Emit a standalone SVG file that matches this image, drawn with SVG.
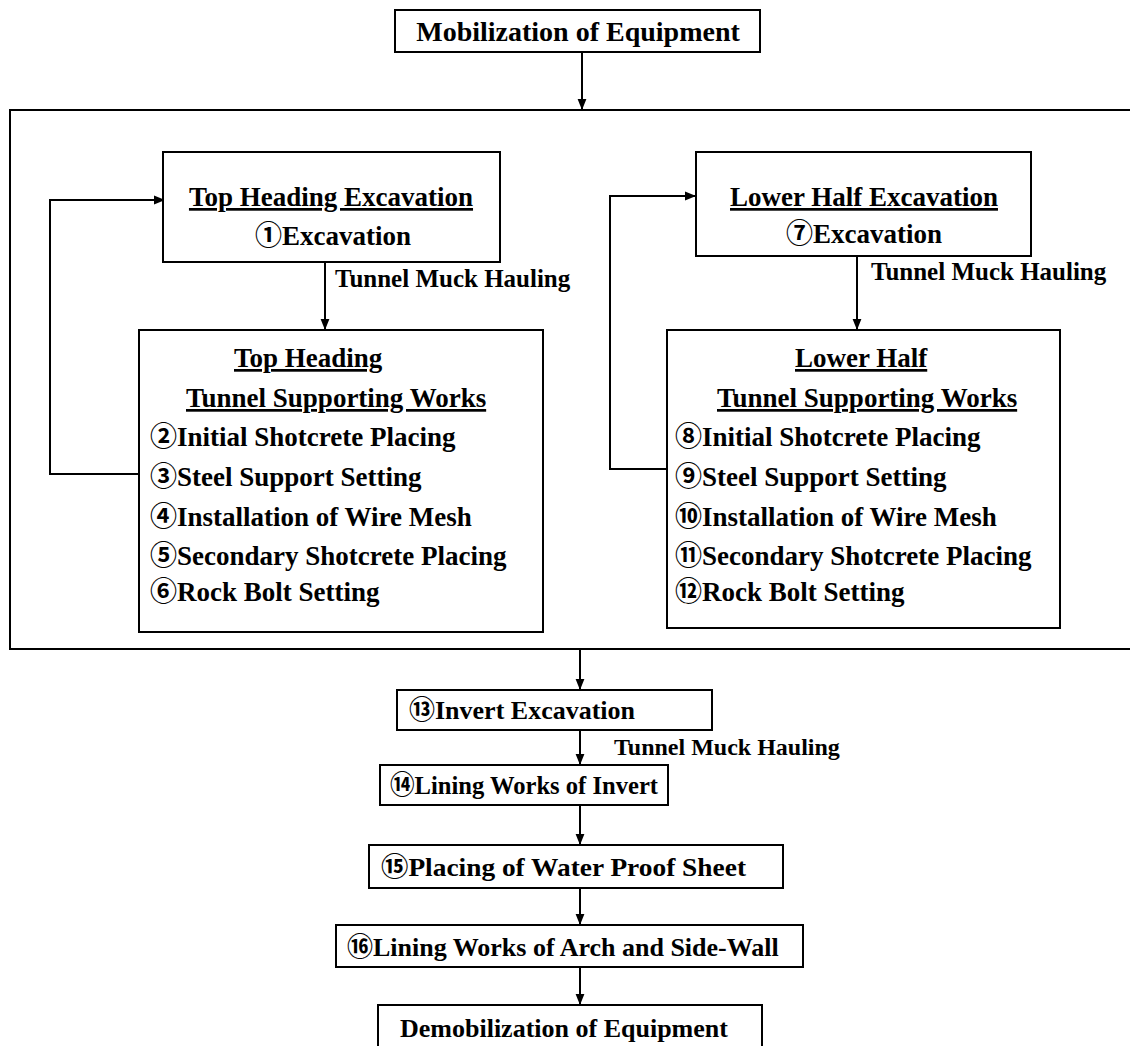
<svg xmlns="http://www.w3.org/2000/svg" width="1130" height="1046" viewBox="0 0 1130 1046">
<defs>
<marker id="ah" viewBox="0 0 10 10" refX="10" refY="5" markerWidth="11" markerHeight="11" markerUnits="userSpaceOnUse" orient="auto">
<path d="M0,1 L10,5 L0,9 z" fill="#000"/>
</marker>
<style>
.box{fill:#fff;stroke:#000;stroke-width:2}
.ln{fill:none;stroke:#000;stroke-width:2}
.ar{fill:none;stroke:#000;stroke-width:2;marker-end:url(#ah)}
text{font-family:"Liberation Serif","Noto Sans CJK JP",serif;font-weight:bold;fill:#000}
.t{font-size:27px}
.b{font-size:26px}
.big{font-size:28px}
.s{font-size:25px}
.s2{font-size:24px}
.u{text-decoration:underline}
.c{text-anchor:middle}
</style>
</defs>
<rect width="1130" height="1046" fill="#fff"/>
<g id="connectors">
<path class="ln" d="M1130,110 H10 V649 H1130"/>
<path class="ar" d="M582,52 V110"/>
<path class="ar" d="M139,474 H50 V200 H165"/>
<path class="ar" d="M325,258 V330"/>
<path class="ar" d="M667,469 H610 V196 H696"/>
<path class="ar" d="M857,257 V330"/>
<path class="ar" d="M580,649 V690"/>
<path class="ar" d="M580,730 V765"/>
<path class="ar" d="M580,805 V845"/>
<path class="ar" d="M580,888 V925"/>
<path class="ar" d="M580,967 V1005"/>
<text class="s" x="335" y="287">Tunnel Muck Hauling</text>
<text class="s" x="871" y="280">Tunnel Muck Hauling</text>
<text class="s2" x="614" y="755">Tunnel Muck Hauling</text>
</g>
<g id="mobilization">
<rect class="box" x="395" y="10" width="365" height="42"/>
<text class="big c" x="578" y="41">Mobilization of Equipment</text>
</g>
<g id="top-heading-excavation">
<rect class="box" x="163" y="152" width="337" height="110"/>
<text class="t c u" x="331" y="206">Top Heading Excavation</text>
<text class="t c" x="333" y="245">①Excavation</text>
</g>
<g id="top-heading-support">
<rect class="box" x="139" y="330" width="404" height="302"/>
<text class="t u" x="234" y="367">Top Heading</text>
<text class="t u" x="186" y="407">Tunnel Supporting Works</text>
<text class="t" x="150" y="446">②Initial Shotcrete Placing</text>
<text class="t" x="150" y="486">③Steel Support Setting</text>
<text class="t" x="150" y="526">④Installation of Wire Mesh</text>
<text class="t" x="150" y="565">⑤Secondary Shotcrete Placing</text>
<text class="t" x="150" y="601">⑥Rock Bolt Setting</text>
</g>
<g id="lower-half-excavation">
<rect class="box" x="696" y="152" width="335" height="104"/>
<text class="t c u" x="864" y="206">Lower Half Excavation</text>
<text class="t c" x="864" y="243">⑦Excavation</text>
</g>
<g id="lower-half-support">
<rect class="box" x="667" y="330" width="393" height="298"/>
<text class="t u" x="795" y="367">Lower Half</text>
<text class="t u" x="717" y="407">Tunnel Supporting Works</text>
<text class="t" x="675" y="446">⑧Initial Shotcrete Placing</text>
<text class="t" x="675" y="486">⑨Steel Support Setting</text>
<text class="t" x="675" y="526">⑩Installation of Wire Mesh</text>
<text class="t" x="675" y="565">⑪Secondary Shotcrete Placing</text>
<text class="t" x="675" y="601">⑫Rock Bolt Setting</text>
</g>
<g id="invert-excavation">
<rect class="box" x="397" y="690" width="315" height="40"/>
<text class="b" x="409" y="719">⑬Invert Excavation</text>
</g>
<g id="lining-invert">
<rect class="box" x="380" y="765" width="288" height="40"/>
<text class="b" x="390" y="794" textLength="268" lengthAdjust="spacingAndGlyphs">⑭Lining Works of Invert</text>
</g>
<g id="water-proof">
<rect class="box" x="369" y="845" width="414" height="43"/>
<text class="b" x="381" y="876" textLength="365" lengthAdjust="spacingAndGlyphs">⑮Placing of Water Proof Sheet</text>
</g>
<g id="lining-arch">
<rect class="box" x="336" y="925" width="467" height="42"/>
<text class="b" x="347" y="956">⑯Lining Works of Arch and Side-Wall</text>
</g>
<g id="demobilization">
<rect class="box" x="378" y="1005" width="384" height="45"/>
<text class="b" x="400" y="1037">Demobilization of Equipment</text>
</g>
</svg>
